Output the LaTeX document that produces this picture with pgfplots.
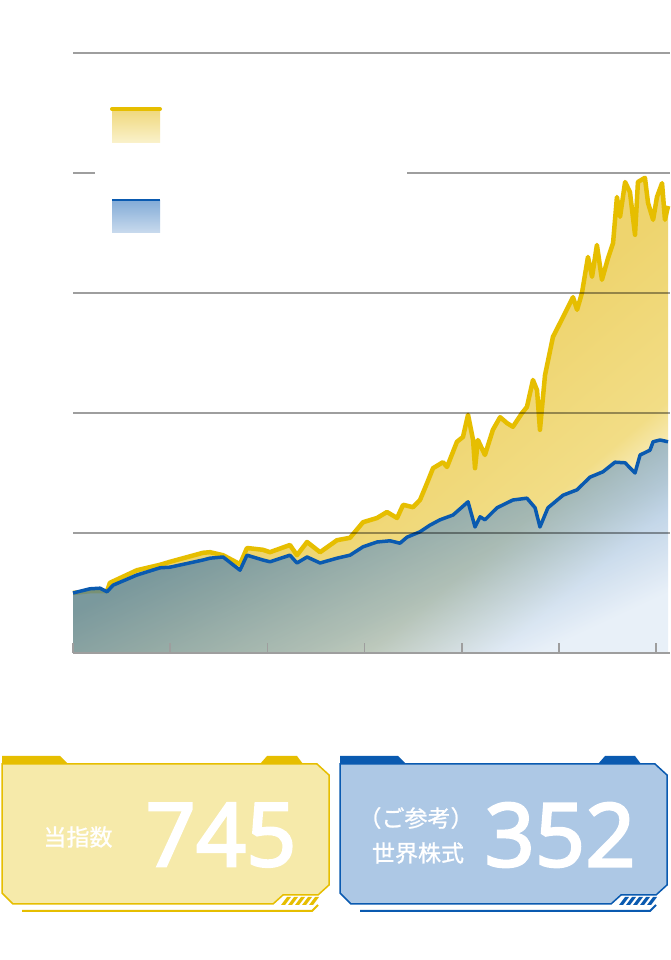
\documentclass[border=0pt]{standalone}
\usepackage{pgfplots}
\pgfplotsset{compat=1.18}
\usepackage{pgfplotstable}
\usepackage{fontspec}
\setmainfont{Noto Sans}
\newfontfamily\numfont{Noto Sans}[FakeBold=2.5]
\newfontfamily\cjk{Noto Sans CJK JP}[FakeBold=1]

\definecolor{ylw}{HTML}{E6BE00}
\definecolor{ylwtop}{HTML}{EED46E}
\definecolor{ylwmid}{HTML}{F2DD86}
\definecolor{ylwbox}{HTML}{F6EAAA}
\definecolor{blu}{HTML}{0A5AB0}
\definecolor{blutop}{HTML}{3A78B8}
\definecolor{blumid}{HTML}{8AAFD2}
\definecolor{blubot}{HTML}{DCE8F5}
\definecolor{blubox}{HTML}{ADC8E5}
\definecolor{gridgray}{HTML}{9E9E9E}

% area shadings: dark at the top left, pale at the bottom right
\pgfdeclareverticalshading{ylwshade}{100bp}{color(0bp)=(white); color(25bp)=(white);
  color(33bp)=(ylwmid); color(47bp)=(ylwtop); color(100bp)=(ylwtop)}
\pgfdeclareverticalshading{blushade}{100bp}{color(0bp)=(blubot); color(25bp)=(blubot);
  color(40bp)=(blumid); color(60bp)=(blutop); color(100bp)=(blutop)}

% index (start = 100), x in years
\pgfplotstableread{
t v
0.00 100
0.87 103
1.75 103
1.90 117
3.29 138
4.48 147
4.99 152
6.69 167
7.05 168
7.72 163
8.59 148
8.95 175
9.77 172
10.13 168
11.16 180
11.52 163
12.04 185
12.71 168
13.58 188
14.25 192
14.92 218
15.64 225
16.15 235
16.67 225
16.98 247
17.49 243
17.85 255
18.21 283
18.52 308
19.03 318
19.24 310
19.75 352
20.06 360
20.32 397
20.58 355
20.68 308
20.83 355
21.19 330
21.60 372
21.97 393
22.33 383
22.63 377
23.10 400
23.35 410
23.66 455
23.87 438
24.02 372
24.28 463
24.69 527
25.21 560
25.72 593
25.93 572
26.18 600
26.49 660
26.70 627
26.95 680
27.21 622
27.52 658
27.78 683
27.98 760
28.14 727
28.40 785
28.65 768
28.91 697
29.06 785
29.42 792
29.58 750
29.84 722
30.04 760
30.30 783
30.45 722
30.61 745
}\idx

% world equities (start = 100)
\pgfplotstableread{
t v
0.00 100
0.87 107
1.39 108
1.75 102
2.06 113
3.29 130
4.48 142
4.99 143
6.69 155
7.05 158
7.72 160
8.59 138
8.95 163
9.77 155
10.13 152
11.16 163
11.52 150
12.04 160
12.71 150
13.58 158
14.25 163
14.92 177
15.64 185
16.31 187
16.82 183
17.18 193
17.85 202
18.36 213
18.88 222
19.55 230
20.32 252
20.68 210
20.94 227
21.19 222
21.81 242
22.63 255
23.35 258
23.77 242
24.02 210
24.43 242
25.21 263
25.93 272
26.59 293
27.26 302
27.88 318
28.40 317
28.91 300
29.17 330
29.68 338
29.84 352
30.20 355
30.61 352
}\world

\begin{document}
\begin{tikzpicture}[x=1pt,y=1pt]
\useasboundingbox (0,0) rectangle (670,960);
\fill[white] (0,0) rectangle (670,960);

\begin{axis}[
    at={(73pt,307pt)}, anchor=south west,
    scale only axis,
    width=597pt, height=600pt,
    xmin=0, xmax=30.71,
    ymin=0, ymax=1000,
    axis x line*=bottom,
    axis y line*=left,
    xtick={0,5,...,30},
    ytick={0,200,...,1000},
    xticklabels={}, yticklabels={},
    tick align=inside,
    major tick length=10pt,
    x tick style={gridgray, line width=1.5pt},
    y tick style={draw=none},
    x axis line style={gridgray, line width=2pt},
    y axis line style={draw=none},
    ymajorgrids=true,
    grid style={black, opacity=0.38, line width=1.5pt},
    axis on top,
    clip=false,
]
\addplot[draw=none, shading=ylwshade, shading angle=40]
  table[x=t, y=v] {\idx} \closedcycle;
\addplot[ylw, line width=4.5pt, line join=round] table[x=t, y=v] {\idx};
\addplot[draw=none, shading=blushade, shading angle=25, fill opacity=0.64]
  table[x=t, y=v] {\world} \closedcycle;
\addplot[blu, line width=3.5pt, line join=round] table[x=t, y=v] {\world};
\end{axis}

% legend
\fill[white] (95,700) rectangle (407,880);
\shade[top color=ylwtop!90!white, bottom color=ylw!20!white] (112,817) rectangle (160,850);
\draw[ylw, line width=4pt, line cap=round] (112,851) -- (160,851);
\shade[top color=blu!50!white, bottom color=blu!22!white] (112,727) rectangle (160,759);
\draw[blu, line width=2.5pt] (112,760) -- (160,760);

% panel: index
\begin{scope}
\fill[ylw] (2,196) -- (2,204) -- (60,204) -- (68,196) -- cycle;
\fill[ylw] (260,196) -- (267,204) -- (297,204) -- (303,196) -- cycle;
\draw[ylw, fill=ylwbox, line width=1.5pt] (2,196) -- (317,196) -- (329,185) -- (329,75) -- (318,65)
  -- (283,65) -- (273,56) -- (13,56) -- (2,67) -- cycle;
\foreach \i in {0,...,4}
  \fill[ylw] (281+7*\i,55) -- (285+7*\i,55) -- (291+7*\i,63) -- (287+7*\i,63) -- cycle;
\draw[ylw, line width=2pt] (22,49) -- (312,49) -- (318,55);
\node[white, font=\cjk\fontsize{23}{26}\selectfont] at (78,123) {当指数};
\node[white, font=\numfont\fontsize{88}{88}\selectfont] at (221,125) {745};
\end{scope}

% panel: world equities
\begin{scope}[xshift=338pt]
\fill[blu] (2,196) -- (2,204) -- (60,204) -- (68,196) -- cycle;
\fill[blu] (260,196) -- (267,204) -- (297,204) -- (303,196) -- cycle;
\draw[blu, fill=blubox, line width=1.5pt] (2,196) -- (317,196) -- (329,185) -- (329,75) -- (318,65)
  -- (283,65) -- (273,56) -- (13,56) -- (2,67) -- cycle;
\foreach \i in {0,...,4}
  \fill[blu] (281+7*\i,55) -- (285+7*\i,55) -- (291+7*\i,63) -- (287+7*\i,63) -- cycle;
\draw[blu, line width=2pt] (22,49) -- (312,49) -- (318,55);
\node[white, font=\cjk\fontsize{23}{26}\selectfont] at (78,142) {（ご参考）};
\node[white, font=\cjk\fontsize{23}{26}\selectfont] at (80,107) {世界株式};
\node[white, font=\numfont\fontsize{88}{88}\selectfont] at (222,125) {352};
\end{scope}
\end{tikzpicture}
\end{document}
